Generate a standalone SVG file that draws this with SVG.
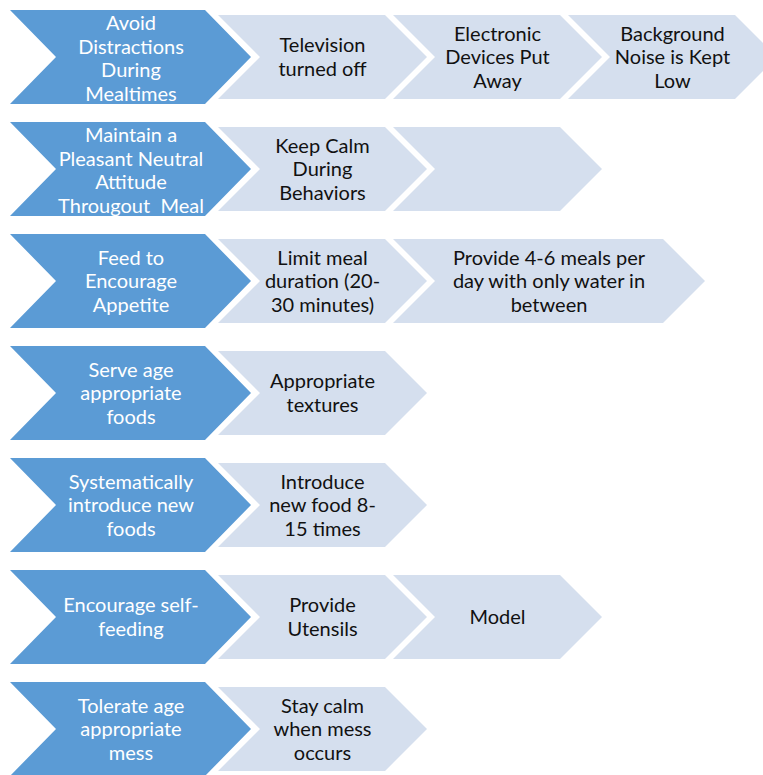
<svg xmlns="http://www.w3.org/2000/svg" width="763" height="775" viewBox="0 0 763 775">
<style>
.d{fill:#5B9BD5}
.l{fill:#D5DFEE}
text{font-family:Lato,"Liberation Sans",sans-serif;font-size:20px;text-anchor:middle}
.dt{fill:#FFFFFF}
.lt{fill:#111111}
</style>
<rect width="763" height="775" fill="#FFFFFF"/>
<g id="connectors"/>
<!-- Row 1 -->
<g id="n1">
<polygon class="d" points="10,10 205,10 251,57 205,104 10,104 56,57"/>
<text class="dt"><tspan x="131" y="30">Avoid</tspan><tspan x="131" y="53.5">Distractions</tspan><tspan x="131" y="77">During</tspan><tspan x="131" y="100.5">Mealtimes</tspan></text>
</g>
<g id="n1a">
<polygon class="l" points="218,15 385,15 427,57 385,99 218,99 260,57"/>
<text class="lt"><tspan x="322.5" y="52">Television</tspan><tspan x="322.5" y="75.5">turned off</tspan></text>
</g>
<g id="n1b">
<polygon class="l" points="393,15 560,15 602,57 560,99 393,99 435,57"/>
<text class="lt"><tspan x="497.5" y="40.5">Electronic</tspan><tspan x="497.5" y="64">Devices Put</tspan><tspan x="497.5" y="87.5">Away</tspan></text>
</g>
<g id="n1c">
<polygon class="l" points="568,15 735,15 777,57 735,99 568,99 610,57"/>
<text class="lt"><tspan x="672.5" y="40.5">Background</tspan><tspan x="672.5" y="64">Noise is Kept</tspan><tspan x="672.5" y="87.5">Low</tspan></text>
</g>
<!-- Row 2 -->
<g id="n2">
<polygon class="d" points="10,122 205,122 251,169 205,216 10,216 56,169"/>
<text class="dt" xml:space="preserve"><tspan x="131" y="142">Maintain a</tspan><tspan x="131" y="165.5">Pleasant Neutral</tspan><tspan x="131" y="189">Attitude</tspan><tspan x="131" y="212.5">Througout  Meal</tspan></text>
</g>
<g id="n2a">
<polygon class="l" points="218,127 385,127 427,169 385,211 218,211 260,169"/>
<text class="lt"><tspan x="322.5" y="152.5">Keep Calm</tspan><tspan x="322.5" y="176">During</tspan><tspan x="322.5" y="199.5">Behaviors</tspan></text>
</g>
<g id="n2b">
<polygon class="l" points="393,127 560,127 602,169 560,211 393,211 435,169"/>
</g>
<!-- Row 3 -->
<g id="n3">
<polygon class="d" points="10,234 205,234 251,281 205,328 10,328 56,281"/>
<text class="dt"><tspan x="131" y="264.5">Feed to</tspan><tspan x="131" y="288">Encourage</tspan><tspan x="131" y="311.5">Appetite</tspan></text>
</g>
<g id="n3a">
<polygon class="l" points="218,239 385,239 427,281 385,323 218,323 260,281"/>
<text class="lt"><tspan x="322.5" y="264.5">Limit meal</tspan><tspan x="322.5" y="288">duration (20-</tspan><tspan x="322.5" y="311.5">30 minutes)</tspan></text>
</g>
<g id="n3b">
<polygon class="l" points="393,239 663,239 705,281 663,323 393,323 435,281"/>
<text class="lt"><tspan x="549" y="264.5">Provide 4-6 meals per</tspan><tspan x="549" y="288">day with only water in</tspan><tspan x="549" y="311.5">between</tspan></text>
</g>
<!-- Row 4 -->
<g id="n4">
<polygon class="d" points="10,346 205,346 251,393 205,440 10,440 56,393"/>
<text class="dt"><tspan x="131" y="376.5">Serve age</tspan><tspan x="131" y="400">appropriate</tspan><tspan x="131" y="423.5">foods</tspan></text>
</g>
<g id="n4a">
<polygon class="l" points="218,351 385,351 427,393 385,435 218,435 260,393"/>
<text class="lt"><tspan x="322.5" y="388">Appropriate</tspan><tspan x="322.5" y="411.5">textures</tspan></text>
</g>
<!-- Row 5 -->
<g id="n5">
<polygon class="d" points="10,458 205,458 251,505 205,552 10,552 56,505"/>
<text class="dt"><tspan x="131" y="488.5">Systematically</tspan><tspan x="131" y="512">introduce new</tspan><tspan x="131" y="535.5">foods</tspan></text>
</g>
<g id="n5a">
<polygon class="l" points="218,463 385,463 427,505 385,547 218,547 260,505"/>
<text class="lt"><tspan x="322.5" y="488.5">Introduce</tspan><tspan x="322.5" y="512">new food 8-</tspan><tspan x="322.5" y="535.5">15 times</tspan></text>
</g>
<!-- Row 6 -->
<g id="n6">
<polygon class="d" points="10,570 205,570 251,617 205,664 10,664 56,617"/>
<text class="dt"><tspan x="131" y="612">Encourage self-</tspan><tspan x="131" y="635.5">feeding</tspan></text>
</g>
<g id="n6a">
<polygon class="l" points="218,575 385,575 427,617 385,659 218,659 260,617"/>
<text class="lt"><tspan x="322.5" y="612">Provide</tspan><tspan x="322.5" y="635.5">Utensils</tspan></text>
</g>
<g id="n6b">
<polygon class="l" points="393,575 560,575 602,617 560,659 393,659 435,617"/>
<text class="lt"><tspan x="497.5" y="624">Model</tspan></text>
</g>
<!-- Row 7 -->
<g id="n7">
<polygon class="d" points="10,682 205,682 251,729 205,776 10,776 56,729"/>
<text class="dt"><tspan x="131" y="712.5">Tolerate age</tspan><tspan x="131" y="736">appropriate</tspan><tspan x="131" y="759.5">mess</tspan></text>
</g>
<g id="n7a">
<polygon class="l" points="218,687 385,687 427,729 385,771 218,771 260,729"/>
<text class="lt"><tspan x="322.5" y="712.5">Stay calm</tspan><tspan x="322.5" y="736">when mess</tspan><tspan x="322.5" y="759.5">occurs</tspan></text>
</g>
</svg>
